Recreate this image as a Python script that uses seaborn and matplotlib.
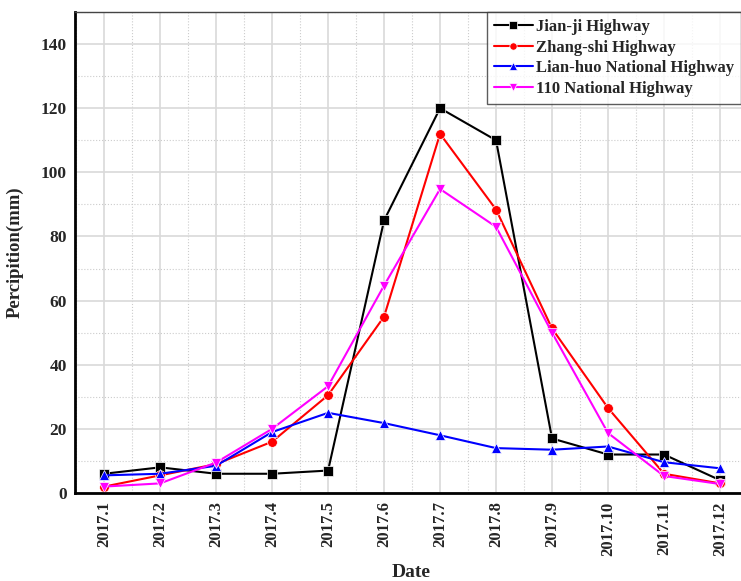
import matplotlib
matplotlib.use("Agg")
import matplotlib.pyplot as plt
import seaborn as sns
import pandas as pd
from matplotlib.ticker import MultipleLocator

months = ["2017.1", "2017.2", "2017.3", "2017.4", "2017.5", "2017.6",
          "2017.7", "2017.8", "2017.9", "2017.10", "2017.11", "2017.12"]
jianji = [6, 8, 6, 6, 7, 85, 120, 110, 17, 12, 12, 4]
zhangshi = [2, 5.5, 9, 16, 30.5, 55, 112, 88.4, 51.3, 26.5, 6, 3]
lianhuo = [5.5, 6, 8.5, 19, 25, 21.8, 18, 14, 13.5, 14.5, 9.6, 7.7]
nat110 = [2, 3, 9.5, 20, 33.3, 64.7, 94.8, 83, 50, 18.7, 5.3, 2.8]

names = ["Jian-ji Highway", "Zhang-shi Highway",
         "Lian-huo National Highway", "110 National Highway"]
series = [jianji, zhangshi, lianhuo, nat110]
colors = ["#000000", "#ff0000", "#0000ff", "#ff00ff"]
marks = ["s", "o", "^", "v"]

rows = []
for name, vals in zip(names, series):
    for i, v in enumerate(vals):
        rows.append({"pos": i, "Date": months[i], "value": v, "series": name})
df = pd.DataFrame(rows)

sns.set_style("white")
plt.rcParams["font.family"] = ["Liberation Serif", "DejaVu Serif"]
plt.rcParams["font.weight"] = "bold"

W, H = 741, 581
fig = plt.figure(figsize=(W / 100, H / 100), dpi=100)
ax = fig.add_axes([75 / W, 88 / H, (748 - 75) / W, (493 - 12) / H])

sns.lineplot(data=df, x="pos", y="value", hue="series", style="series",
             hue_order=names, style_order=names,
             palette=dict(zip(names, colors)),
             markers=dict(zip(names, marks)), dashes=False,
             markersize=7, linewidth=1.5, markeredgewidth=0.5, ax=ax)

ax.set_xlim(-0.52, 11.5)
ax.set_ylim(0, 150)
ax.set_xticks(range(len(months)))
ax.set_xticklabels(months, rotation=90, fontsize=12, fontweight="bold")
ax.xaxis.set_minor_locator(MultipleLocator(0.5))
ax.set_yticks(range(0, 141, 20))
ax.yaxis.set_minor_locator(MultipleLocator(10))
for lab in ax.get_yticklabels():
    lab.set_fontsize(12.5)
    lab.set_fontweight("bold")

ax.grid(which="major", color="#d9d9d9", linewidth=1.2, linestyle="-")
ax.grid(which="minor", color="#cccccc", linewidth=0.8, linestyle=":")
ax.set_axisbelow(True)
ax.tick_params(which="both", length=0, pad=6)

ax.spines["left"].set_linewidth(2)
ax.spines["bottom"].set_linewidth(2)
ax.spines["left"].set_color("black")
ax.spines["bottom"].set_color("black")
ax.spines["top"].set_linewidth(1)
ax.spines["top"].set_color("#444444")
ax.spines["right"].set_linewidth(1)

ax.set_xlabel("Date", fontsize=14, fontweight="bold", labelpad=6)
ax.set_ylabel("Percipition(mm)", fontsize=13.5, fontweight="bold", labelpad=12)

leg = ax.legend(loc="upper right",
                bbox_to_anchor=(741 / W, 1 - 12 / H),
                bbox_transform=fig.transFigure,
                frameon=True, fancybox=False, shadow=False,
                prop={"size": 12, "weight": "bold"},
                handlelength=2.3, borderpad=0.42, labelspacing=0.28,
                handletextpad=0.2, borderaxespad=0.0, markerscale=0.75)
leg.get_frame().set_edgecolor("#333333")
leg.get_frame().set_linewidth(1)

fig.savefig("out.png", dpi=100)
